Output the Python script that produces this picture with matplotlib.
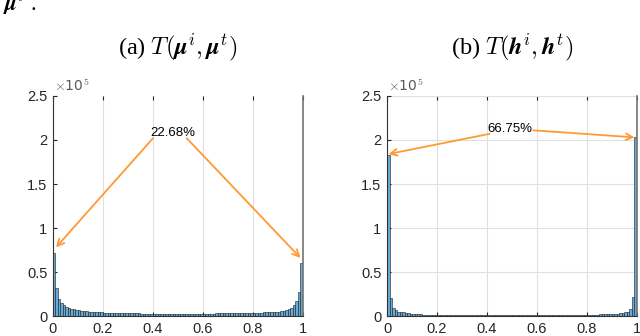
import numpy as np
import matplotlib
matplotlib.use("Agg")
import matplotlib.pyplot as plt

plt.rcParams["font.family"] = ["Liberation Sans", "DejaVu Sans"]
plt.rcParams["mathtext.fontset"] = "cm"

# histogram counts (x 1e5), 100 bins on [0, 1]
counts_mu = [
    0.72, 0.32, 0.19, 0.15, 0.12, 0.10, 0.09, 0.08, 0.075, 0.07,
    0.065, 0.06, 0.057, 0.054, 0.05, 0.048, 0.046, 0.044, 0.042, 0.04,
    0.039, 0.038, 0.037, 0.036, 0.035, 0.034, 0.033, 0.033, 0.032, 0.031,
    0.031, 0.030, 0.030, 0.029, 0.029, 0.028, 0.028, 0.028, 0.027, 0.027,
    0.027, 0.026, 0.026, 0.026, 0.026, 0.025, 0.025, 0.025, 0.025, 0.025,
    0.025, 0.025, 0.025, 0.025, 0.025, 0.025, 0.026, 0.026, 0.026, 0.026,
    0.027, 0.027, 0.027, 0.028, 0.028, 0.029, 0.029, 0.030, 0.030, 0.031,
    0.031, 0.032, 0.032, 0.033, 0.033, 0.034, 0.034, 0.035, 0.035, 0.036,
    0.036, 0.037, 0.038, 0.039, 0.040, 0.041, 0.042, 0.044, 0.046, 0.048,
    0.05, 0.055, 0.06, 0.07, 0.08, 0.095, 0.12, 0.17, 0.27, 0.60,
]
counts_h = [
    1.83, 0.21, 0.09, 0.07, 0.05, 0.045, 0.04, 0.035, 0.03, 0.027,
    0.024, 0.022, 0.02, 0.018, 0.017, 0.016, 0.015, 0.014, 0.013, 0.012,
    0.012, 0.011, 0.011, 0.010, 0.010, 0.010, 0.009, 0.009, 0.009, 0.009,
    0.008, 0.008, 0.008, 0.008, 0.008, 0.008, 0.008, 0.008, 0.007, 0.007,
    0.007, 0.007, 0.007, 0.007, 0.007, 0.007, 0.007, 0.007, 0.007, 0.007,
    0.007, 0.007, 0.007, 0.007, 0.007, 0.007, 0.007, 0.007, 0.007, 0.007,
    0.007, 0.007, 0.008, 0.008, 0.008, 0.008, 0.008, 0.008, 0.008, 0.009,
    0.009, 0.009, 0.009, 0.010, 0.010, 0.010, 0.011, 0.011, 0.012, 0.012,
    0.013, 0.014, 0.015, 0.016, 0.017, 0.018, 0.019, 0.020, 0.021, 0.022,
    0.023, 0.025, 0.027, 0.030, 0.034, 0.04, 0.05, 0.08, 0.22, 2.03,
]

titles = [r"(a) $T(\boldsymbol{\mu}^i, \boldsymbol{\mu}^t)$",
          r"(b) $T(\boldsymbol{h}^i, \boldsymbol{h}^t)$"]
percent_labels = ["22.68%", "66.75%"]
xticks = [0, 0.2, 0.4, 0.6, 0.8, 1]
xtick_labels = ["0", "0.2", "0.4", "0.6", "0.8", "1"]
yticks = [0, 0.5, 1, 1.5, 2, 2.5]
ytick_labels = ["0", "0.5", "1", "1.5", "2", "2.5"]

# annotation geometry: text pos, then (start, end) for each arrow
label_pos = [(0.48, 2.08), (0.49, 2.12)]
arrows = [
    [((0.40, 2.02), (0.012, 0.78)), ((0.535, 2.02), (0.99, 0.66))],
    [((0.41, 2.07), (0.006, 1.84)), ((0.585, 2.11), (0.99, 2.03))],
]

bar_face = (0.4, 0.668, 0.845)
arrow_col = "#ff9933"
edges = np.linspace(0, 1, 101)

fig = plt.figure(figsize=(6.4, 3.36), dpi=100)
axes = [fig.add_axes([0.0828, 0.0595, 0.3906, 0.6548]),
        fig.add_axes([0.6047, 0.0595, 0.3906, 0.6548])]

for i, (ax, counts) in enumerate(zip(axes, [counts_mu, counts_h])):
    ax.bar(edges[:-1], counts, width=0.01, align="edge",
           color=bar_face, edgecolor="0.1", linewidth=0.4, zorder=2)
    ax.set_xlim(0, 1)
    ax.set_ylim(0, 2.5)
    ax.set_xticks(xticks)
    ax.set_xticklabels(xtick_labels)
    ax.set_yticks(yticks)
    ax.set_yticklabels(ytick_labels)
    ax.tick_params(direction="in", length=3, labelsize=10.5, top=True,
                   colors="0.15", pad=4)
    ax.xaxis.grid(True, color="0.88", linewidth=0.8, zorder=0)
    if i == 1:
        ax.yaxis.grid(True, color="0.88", linewidth=0.8, zorder=0)
    ax.set_axisbelow(True)
    ax.spines["top"].set_visible(False)
    ax.spines["left"].set_color("0.2")
    ax.spines["bottom"].set_color("0.2")
    ax.spines["right"].set_color("0.45")
    ax.spines["right"].set_linewidth(1.2)

    ax.text(0.005, 1.01, r"$\times$10$^5$", transform=ax.transAxes,
            fontsize=10, color="0.35", family="DejaVu Sans",
            ha="left", va="bottom")

    ax.text(*label_pos[i], percent_labels[i], fontsize=9.5, ha="center",
            va="center", color="black", zorder=5)
    for start, end in arrows[i]:
        ax.annotate("", xy=end, xytext=start,
                    arrowprops=dict(arrowstyle="->", color=arrow_col, lw=1.3,
                                    mutation_scale=12, shrinkA=0, shrinkB=0),
                    zorder=4)

    pos = ax.get_position()
    fig.text(pos.x0 + pos.width / 2, 0.86, titles[i], fontsize=17.5,
             family="Liberation Serif", ha="center", va="center")

fig.text(0.004, 0.968, r"$\boldsymbol{\mu}^t$ .", fontsize=16,
         family="Liberation Serif", ha="left", va="baseline")

fig.savefig("out.png", dpi=100)
